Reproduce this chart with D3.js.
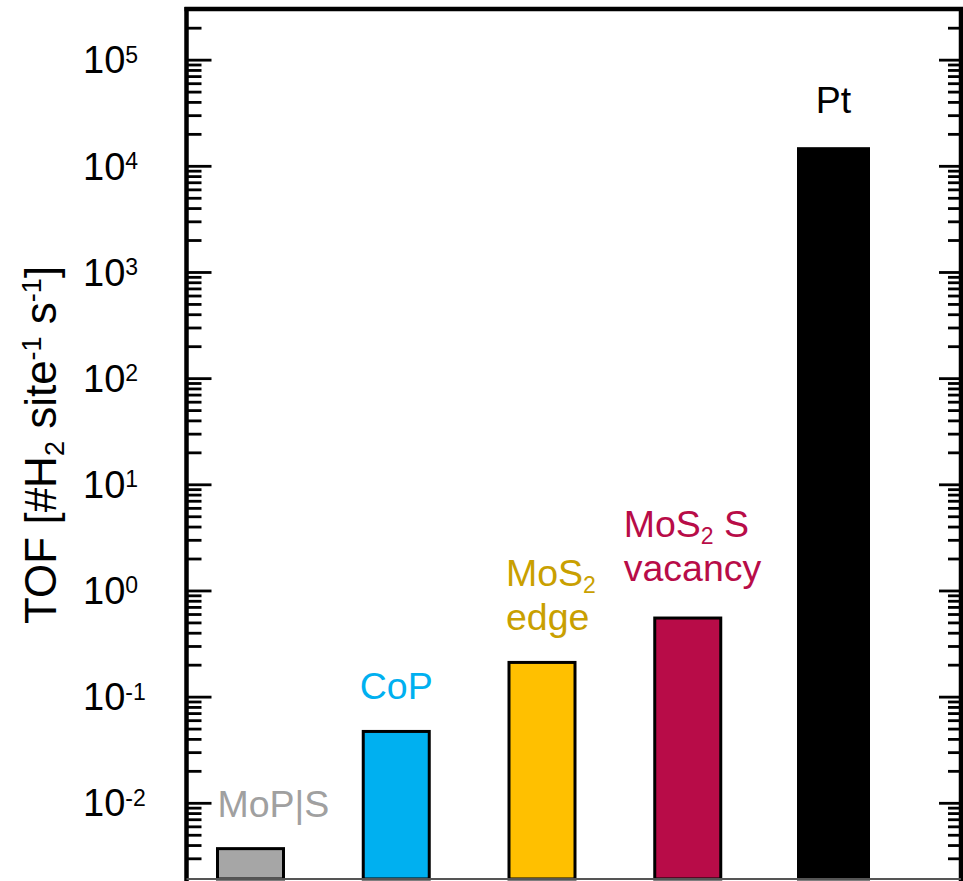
<!DOCTYPE html>
<html>
<head>
<meta charset="utf-8">
<script src="https://cdn.jsdelivr.net/npm/d3@7"></script>
<style>
  html, body { margin: 0; padding: 0; background: #fff; }
  svg { display: block; font-family: Arial, "Liberation Sans", sans-serif; }
</style>
</head>
<body>
<svg id="chart" width="963" height="881"></svg>
<script>
// ---- data ----
const categories = ["MoP|S", "CoP", "MoS2 edge", "MoS2 S vacancy", "Pt"];
const tofValues = [0.0037, 0.047, 0.21, 0.55, 14500];
const labelLines = [["MoP|S"], ["CoP"], ["MoS_2", "edge"], ["MoS_2 S", "vacancy"], ["Pt"]];
const tickExponents = [-2, -1, 0, 1, 2, 3, 4, 5];
const yDomain = [2e-3, 3e5];

// ---- styles / layout (not data) ----
const barFill = ["#a6a6a6", "#00b0f0", "#ffc000", "#b80c48", "#000000"];
const textFill = ["#a0a0a0", "#00b0f0", "#c9a000", "#b80c48", "#000000"];
const labelAnchor = ["start", "middle", "start", "start", "middle"];
const labelDx = [-33, 0, -36, -64, 0];     // relative to bar centre
const labelGap = [32, 32, 32, 37, 36];       // baseline gap above bar top
const lineStep = 44.5;

(function () {
const svg = d3.select("#chart");
const pLeft = 186.5, pRight = 961, pTop = 9, pBottom = 877;

const y = d3.scaleLog().domain(yDomain).range([pBottom, pTop]);
const x = d3.scalePoint().domain(categories).range([250.5, 833.5]);

// minor tick values
const minor = [];
for (let e = -3; e <= 5; e++) {
  for (let m = 2; m <= 9; m++) {
    const v = m * Math.pow(10, e);
    if (v > yDomain[0] && v < yDomain[1]) minor.push(v);
  }
}
const major = tickExponents.map(e => Math.pow(10, e));

function styleAxis(g, w) {
  g.select(".domain").remove();
  g.selectAll(".tick line").attr("stroke", "#000").attr("stroke-width", w);
  g.selectAll(".tick text").remove();
}

// left axis ticks (inward)
svg.append("g").attr("transform", `translate(${pLeft},0)`)
  .call(d3.axisLeft(y).tickValues(minor).tickSizeInner(-15).tickSizeOuter(0).tickFormat(""))
  .call(g => styleAxis(g, 2.8));
svg.append("g").attr("transform", `translate(${pLeft},0)`)
  .call(d3.axisLeft(y).tickValues(major).tickSizeInner(-25).tickSizeOuter(0).tickFormat(""))
  .call(g => styleAxis(g, 2.8));
// right axis ticks (inward)
svg.append("g").attr("transform", `translate(${pRight},0)`)
  .call(d3.axisRight(y).tickValues(minor).tickSizeInner(-13).tickSizeOuter(0).tickFormat(""))
  .call(g => styleAxis(g, 2.8));
svg.append("g").attr("transform", `translate(${pRight},0)`)
  .call(d3.axisRight(y).tickValues(major).tickSizeInner(-22).tickSizeOuter(0).tickFormat(""))
  .call(g => styleAxis(g, 2.8));

// tick labels 10^n
const tl = svg.append("g").selectAll("text").data(tickExponents).join("text")
  .attr("x", 83)
  .attr("y", d => y(Math.pow(10, d)) + 13.7)
  .attr("font-size", 38)
  .attr("fill", "#000");
tl.append("tspan").text("10");
tl.append("tspan").attr("font-size", 23).attr("dy", -10.8).text(d => String(d));

// bars
svg.append("g").selectAll("rect").data(categories).join("rect")
  .attr("x", (d, i) => x(d) - (i === 4 ? 35 : 33))
  .attr("width", (d, i) => i === 4 ? 70 : 66)
  .attr("y", (d, i) => y(tofValues[i]))
  .attr("height", (d, i) => pBottom + 2 - y(tofValues[i]))
  .attr("fill", (d, i) => barFill[i])
  .attr("stroke", "#000")
  .attr("stroke-width", 3);

// bar labels
categories.forEach((c, i) => {
  const lines = labelLines[i];
  const n = lines.length;
  const baseY = y(tofValues[i]) - labelGap[i];
  lines.forEach((line, k) => {
    const t = svg.append("text")
      .attr("x", x(c) + labelDx[i])
      .attr("y", baseY - (n - 1 - k) * lineStep)
      .attr("text-anchor", labelAnchor[i])
      .attr("font-size", 37.5)
      .attr("fill", textFill[i]);
    const parts = line.split("_");
    t.append("tspan").text(parts[0]);
    for (let p = 1; p < parts.length; p++) {
      t.append("tspan").attr("font-size", 23).attr("dy", 7).text(parts[p].charAt(0));
      const rest = parts[p].slice(1);
      if (rest.length) t.append("tspan").attr("dy", -7).text(rest);
    }
  });
});

// frame
svg.append("line").attr("x1", pLeft).attr("x2", pLeft).attr("y1", pTop - 2).attr("y2", 881)
  .attr("stroke", "#000").attr("stroke-width", 4.5);
svg.append("line").attr("x1", pRight).attr("x2", pRight).attr("y1", pTop - 2).attr("y2", 881)
  .attr("stroke", "#000").attr("stroke-width", 4.5);
svg.append("line").attr("x1", pLeft - 2).attr("x2", 963).attr("y1", pTop).attr("y2", pTop)
  .attr("stroke", "#000").attr("stroke-width", 4.5);
svg.append("line").attr("x1", pLeft).attr("x2", pRight).attr("y1", 879).attr("y2", 879)
  .attr("stroke", "#555").attr("stroke-width", 2);

// y title
const title = svg.append("text")
  .attr("transform", "translate(56,624) rotate(-90)")
  .attr("font-size", 44)
  .attr("fill", "#000");
title.append("tspan").text("TOF [#H");
title.append("tspan").attr("font-size", 27).attr("dy", 8).text("2");
title.append("tspan").attr("dy", -8).text(" site");
title.append("tspan").attr("font-size", 27).attr("dy", -15).text("-1");
title.append("tspan").attr("dy", 15).text(" s");
title.append("tspan").attr("font-size", 27).attr("dy", -15).text("-1");
title.append("tspan").attr("dy", 15).text("]");
})();
</script>
</body>
</html>
